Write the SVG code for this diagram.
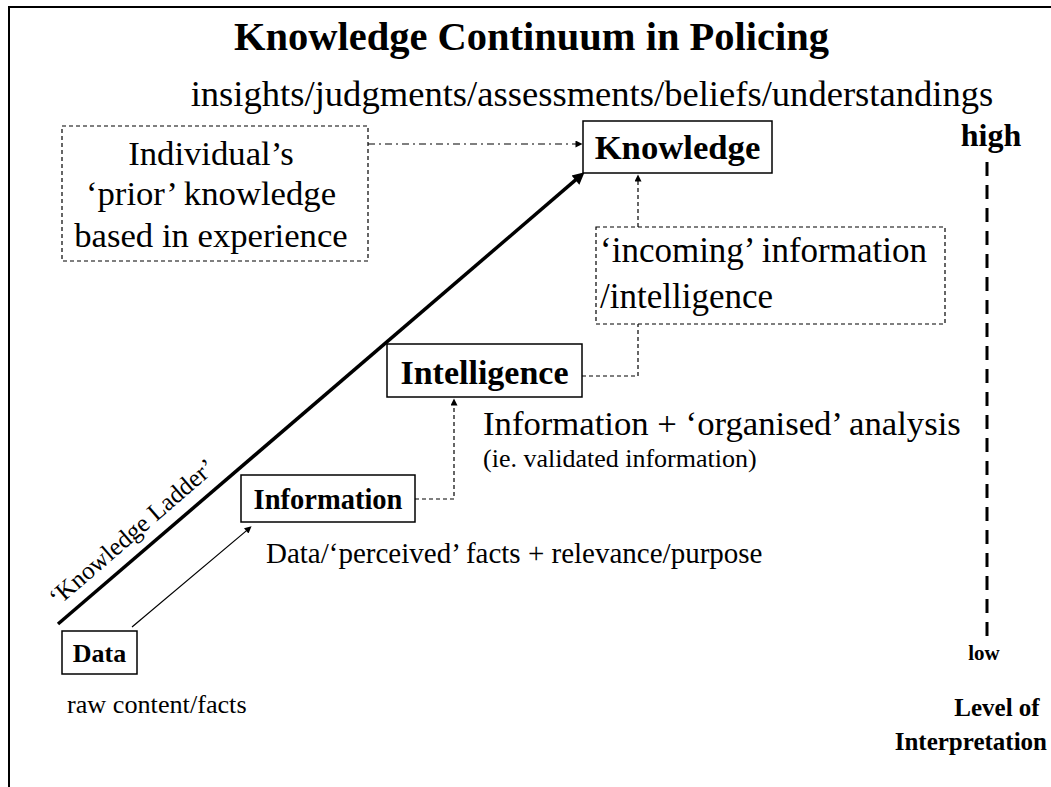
<svg xmlns="http://www.w3.org/2000/svg" width="1051" height="787" viewBox="0 0 1051 787">
<style>
.t{font-family:"Liberation Serif","Times New Roman",serif;fill:#000}
.b{font-weight:bold}
.m{text-anchor:middle}
.box{fill:#fff;stroke:#000;stroke-width:1.5}
.dbox{fill:none;stroke:#000;stroke-width:1.2;stroke-dasharray:4 3}
.dash{fill:none;stroke:#000;stroke-width:1.2;stroke-dasharray:4 3}
.dd{fill:none;stroke:#000;stroke-width:1.2;stroke-dasharray:7 4 2 4}
</style>
<defs>
<marker id="sa" viewBox="0 0 10 10" refX="5" refY="5" markerWidth="8" markerHeight="7" markerUnits="userSpaceOnUse" orient="auto"><path d="M0,0 L10,5 L0,10 z" fill="#000"/></marker>
<marker id="la" viewBox="0 0 10 10" refX="5" refY="5" markerWidth="16" markerHeight="12" markerUnits="userSpaceOnUse" orient="auto"><path d="M0,0 L10,5 L0,10 z" fill="#000"/></marker>
</defs>
<rect width="1051" height="787" fill="#fff"/>
<g id="frame"><path d="M9,787 V7 H1051" fill="none" stroke="#000" stroke-width="2"/></g>
<g id="title">
<text class="t b m" x="531.5" y="50" font-size="40.5">Knowledge Continuum in Policing</text>
<text class="t m" x="592" y="106" font-size="36.6">insights/judgments/assessments/beliefs/understandings</text>
</g>
<g id="connectors">
<path d="M58,624 L580,176.2" stroke="#000" stroke-width="3.5" fill="none" marker-end="url(#la)"/>
<path d="M132,627 L248.9,528.6" stroke="#000" stroke-width="1.2" fill="none" marker-end="url(#sa)"/>
<path class="dd" d="M368,144 H579" marker-end="url(#sa)"/>
<path class="dash" d="M415,499 H454 V402" marker-end="url(#sa)"/>
<path class="dash" d="M582,376 H638 V324"/>
<path class="dash" d="M638,227 V178" marker-end="url(#sa)"/>
</g>
<g id="ladder-label"><text class="t" x="58" y="607" font-size="25" transform="rotate(-40.85 58 607)">‘Knowledge Ladder’</text></g>
<g id="prior">
<rect class="dbox" x="62" y="126" width="306" height="135"/>
<text class="t m" x="211" y="165" font-size="34.7">Individual’s</text>
<text class="t m" x="211" y="205" font-size="34.7">‘prior’ knowledge</text>
<text class="t m" x="211" y="247" font-size="34.7">based in experience</text>
</g>
<g id="knowledge">
<rect class="box" x="583" y="121" width="189" height="52"/>
<text class="t b m" x="677.5" y="159" font-size="34.7">Knowledge</text>
</g>
<g id="incoming">
<rect class="dbox" x="596" y="227" width="349" height="97"/>
<text class="t" x="600" y="262" font-size="35">‘incoming’ information</text>
<text class="t" x="600" y="308" font-size="35">/intelligence</text>
</g>
<g id="intelligence">
<rect class="box" x="387" y="344" width="195" height="53"/>
<text class="t b m" x="484.5" y="384" font-size="34">Intelligence</text>
<text class="t" x="483" y="435" font-size="34.7">Information + ‘organised’ analysis</text>
<text class="t" x="483" y="467" font-size="26">(ie. validated information)</text>
</g>
<g id="information">
<rect class="box" x="241" y="475" width="174" height="47"/>
<text class="t b m" x="328" y="509" font-size="28.5">Information</text>
<text class="t" x="266" y="563" font-size="29">Data/‘perceived’ facts + relevance/purpose</text>
</g>
<g id="data">
<rect class="box" x="62" y="631" width="75" height="43"/>
<text class="t b m" x="99.5" y="662" font-size="26">Data</text>
<text class="t" x="67" y="713" font-size="26.2">raw content/facts</text>
</g>
<g id="scale">
<path d="M987,162 V636" stroke="#000" stroke-width="3" stroke-dasharray="14 9" fill="none"/>
<text class="t b m" x="991" y="146" font-size="32">high</text>
<text class="t b m" x="984" y="660" font-size="21">low</text>
<text class="t b m" x="997" y="716" font-size="25">Level of</text>
<text class="t b" x="1047" y="750" font-size="25" text-anchor="end">Interpretation</text>
</g>
</svg>
